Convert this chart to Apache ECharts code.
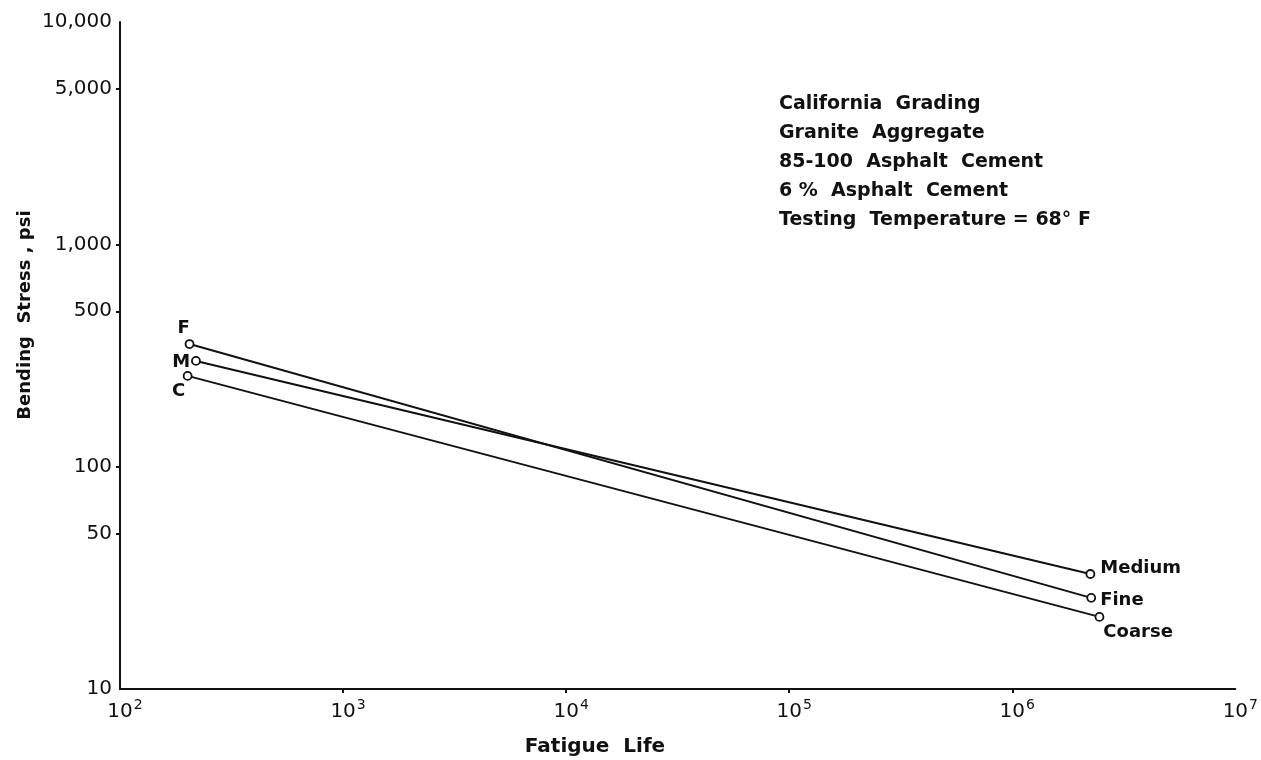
<!DOCTYPE html>
<html>
<head>
<meta charset="utf-8">
<script src="https://cdn.jsdelivr.net/npm/echarts@6/dist/echarts.min.js"></script>
<style>
  html, body { margin: 0; padding: 0; background: #fff; }
  #chart { width: 1261px; height: 760px; }
</style>
</head>
<body>
<div id="chart"></div>
<script>
// Fatigue life (load repetitions) and bending stress (psi) at the two ends of each fitted line
const fineLife = [205, 2.26e6];
const fineStress = [356, 25.7];
const mediumLife = [219, 2.24e6];
const mediumStress = [299, 32.9];
const coarseLife = [201, 2.46e6];
const coarseStress = [256, 21.1];

const gradingNames = ['Fine', 'Medium', 'Coarse'];
const startTags = ['F', 'M', 'C'];

const yTickValues = [10, 50, 100, 500, 1000, 5000, 10000];
const xTickValues = [1e2, 1e3, 1e4, 1e5, 1e6, 1e7];

const noteLines = [
  'California  Grading',
  'Granite  Aggregate',
  '85-100  Asphalt  Cement',
  '6 %  Asphalt  Cement',
  'Testing  Temperature = 68° F'
];

const FONT = 'DejaVu Sans';
const INK = '#111';

function pairs(xs, ys) {
  return xs.map((x, i) => [x, ys[i]]);
}

const startLabelStyles = [
  { position: 'top', offset: [-6, 3] },
  { position: 'left', distance: 1, offset: [0, 1] },
  { position: 'bottom', offset: [-9, -3] }
];
const endLabelStyles = [
  { position: 'right', offset: [-1, 2] },
  { position: 'right', offset: [0, -6] },
  { position: 'right', offset: [-6, 15] }
];

function buildSeries(idx, life, stress) {
  const pts = pairs(life, stress);
  return {
    name: gradingNames[idx],
    type: 'line',
    symbol: 'circle',
    symbolSize: 8,
    showAllSymbol: true,
    lineStyle: { color: INK, width: 2 },
    itemStyle: { color: '#fff', borderColor: INK, borderWidth: 1.8 },
    emphasis: { disabled: true },
    data: [
      { value: pts[0], label: Object.assign({ show: true, formatter: startTags[idx] }, startLabelStyles[idx]) },
      { value: pts[1], label: Object.assign({ show: true, formatter: gradingNames[idx] }, endLabelStyles[idx]) }
    ],
    label: {
      color: INK,
      fontFamily: FONT,
      fontWeight: 'bold',
      fontSize: 18
    },
    z: 3
  };
}

const chart = echarts.init(document.getElementById('chart'), null, { renderer: 'canvas' });

const option = {
  backgroundColor: '#fff',
  animation: false,
  grid: { left: 120, right: 24, top: 22, bottom: 71, containLabel: false },
  xAxis: {
    type: 'log',
    logBase: 10,
    min: 1e2,
    max: 1e7,
    axisLine: { show: true, lineStyle: { color: INK, width: 2 } },
    axisTick: { show: true, length: 4, lineStyle: { color: INK, width: 2 }, customValues: xTickValues.slice(1, -1) },
    minorTick: { show: false },
    splitLine: { show: false },
    axisLabel: {
      customValues: xTickValues,
      margin: 9,
      color: INK,
      fontFamily: FONT,
      fontSize: 20,
      formatter: function (v) {
        const e = Math.round(Math.log10(v));
        return '{b|10}{s|' + e + '}';
      },
      rich: {
        b: { fontFamily: FONT, fontSize: 20, color: INK, verticalAlign: 'bottom', lineHeight: 24, padding: [0, 0, 0, 10] },
        s: { fontFamily: FONT, fontSize: 14, color: INK, verticalAlign: 'top', padding: [0, 0, 9, 1], lineHeight: 24 }
      }
    }
  },
  yAxis: {
    type: 'log',
    logBase: 10,
    min: 10,
    max: 10000,
    axisLine: { show: true, lineStyle: { color: INK, width: 2 } },
    axisTick: { show: true, length: 4, lineStyle: { color: INK, width: 2 }, customValues: yTickValues.slice(1, -1) },
    minorTick: { show: false },
    splitLine: { show: false },
    axisLabel: {
      customValues: yTickValues,
      margin: 8,
      color: INK,
      fontFamily: FONT,
      fontSize: 20,
      formatter: function (v) {
        return Math.round(v).toLocaleString('en-US');
      }
    }
  },
  graphic: [
    {
      type: 'text',
      x: 25,
      y: 315,
      rotation: Math.PI / 2,
      style: {
        text: 'Bending  Stress , psi',
        font: 'bold 18px "' + FONT + '"',
        fill: INK,
        align: 'center',
        verticalAlign: 'middle'
      }
    },
    {
      type: 'text',
      x: 595,
      y: 747,
      style: {
        text: 'Fatigue  Life',
        font: 'bold 20px "' + FONT + '"',
        fill: INK,
        align: 'center',
        verticalAlign: 'middle'
      }
    },
    {
      type: 'text',
      x: 779,
      y: 90,
      style: {
        text: noteLines.join('\n'),
        font: 'bold 19px "' + FONT + '"',
        lineHeight: 29,
        fill: INK,
        align: 'left',
        verticalAlign: 'top'
      }
    }
  ],
  series: [
    buildSeries(0, fineLife, fineStress),
    buildSeries(1, mediumLife, mediumStress),
    buildSeries(2, coarseLife, coarseStress)
  ]
};

chart.setOption(option);
</script>
</body>
</html>
